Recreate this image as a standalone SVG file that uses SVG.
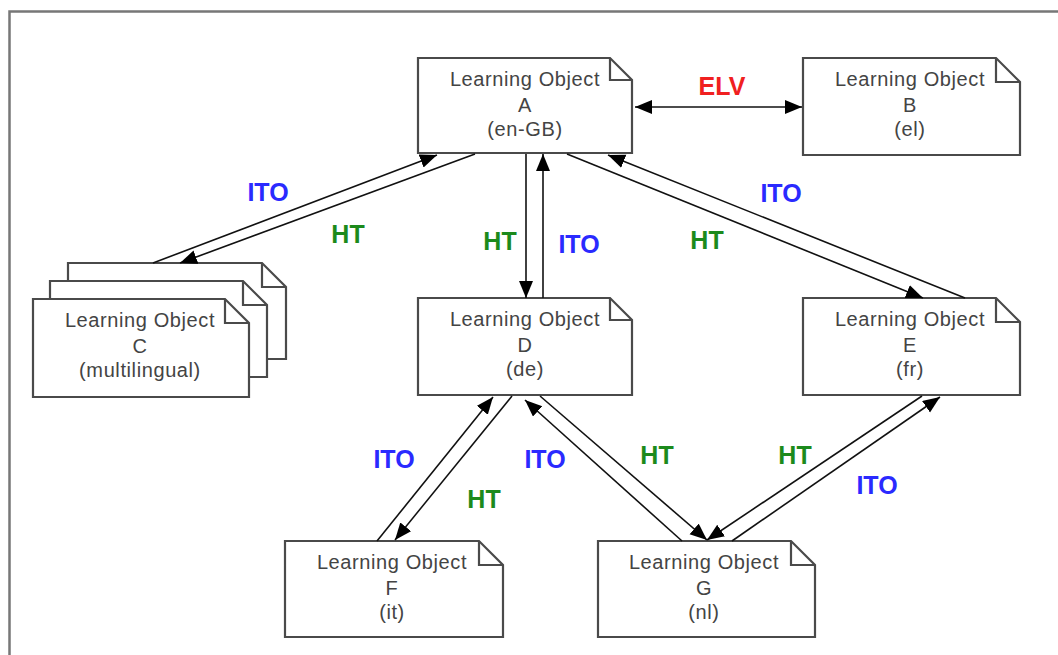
<svg xmlns="http://www.w3.org/2000/svg" width="1058" height="655" viewBox="0 0 1058 655">
<style>
.box{fill:#fff;stroke:#4a4a4a;stroke-width:2.2;stroke-linejoin:miter}
.fold{fill:none;stroke:#4a4a4a;stroke-width:2.2}
.nt{font-family:"Liberation Sans",Arial,sans-serif;font-size:20px;fill:#444;text-anchor:middle;letter-spacing:0.6px}
.ln{stroke:#111;stroke-width:1.6;fill:none}
.lbl{font-family:"Liberation Sans",Arial,sans-serif;font-size:25px;font-weight:bold;text-anchor:middle}
.ito{fill:#2a2aff}
.ht{fill:#1c8a1c}
.elv{fill:#f02020}
</style>
<defs>
<marker id="ah" markerUnits="userSpaceOnUse" markerWidth="18" markerHeight="15" refX="17" refY="7" orient="auto-start-reverse" viewBox="0 0 18 15">
<path d="M0,0 L17,7 L0,14 z" fill="#000"/>
</marker>
</defs>
<rect x="0" y="0" width="1058" height="655" fill="#fff"/>
<path d="M9.5,655 V11.5 H1058" fill="none" stroke="#777" stroke-width="2.5"/>

<g id="nodeA">
<path class="box" d="M418,58 H610 L632,80 V153 H418 Z"/><path class="fold" d="M610,58 V80 H632"/>
<text class="nt" x="525" y="86">Learning Object</text><text class="nt" x="525" y="112">A</text><text class="nt" x="525" y="136">(en-GB)</text>
</g>
<g id="nodeB">
<path class="box" d="M803,58 H996 L1020,82 V155 H803 Z"/><path class="fold" d="M996,58 V82 H1020"/>
<text class="nt" x="910" y="86">Learning Object</text><text class="nt" x="910" y="112">B</text><text class="nt" x="910" y="136">(el)</text>
</g>
<g id="nodeC">
<path class="box" d="M68,263 H262 L286,287 V359 H68 Z"/><path class="fold" d="M262,263 V287 H286"/>
<path class="box" d="M50,281 H243 L267,305 V377 H50 Z"/><path class="fold" d="M243,281 V305 H267"/>
<path class="box" d="M33,299 H225 L249,323 V397 H33 Z"/><path class="fold" d="M225,299 V323 H249"/>
<text class="nt" x="140" y="327">Learning Object</text><text class="nt" x="140" y="353">C</text><text class="nt" x="140" y="377">(multilingual)</text>
</g>
<g id="nodeD">
<path class="box" d="M418,298 H610 L632,320 V395 H418 Z"/><path class="fold" d="M610,298 V320 H632"/>
<text class="nt" x="525" y="326">Learning Object</text><text class="nt" x="525" y="352">D</text><text class="nt" x="525" y="376">(de)</text>
</g>
<g id="nodeE">
<path class="box" d="M803,298 H996 L1020,322 V395 H803 Z"/><path class="fold" d="M996,298 V322 H1020"/>
<text class="nt" x="910" y="326">Learning Object</text><text class="nt" x="910" y="352">E</text><text class="nt" x="910" y="376">(fr)</text>
</g>
<g id="nodeF">
<path class="box" d="M285,541 H479 L503,565 V637 H285 Z"/><path class="fold" d="M479,541 V565 H503"/>
<text class="nt" x="392" y="569">Learning Object</text><text class="nt" x="392" y="595">F</text><text class="nt" x="392" y="619">(it)</text>
</g>
<g id="nodeG">
<path class="box" d="M598,541 H791 L815,565 V637 H598 Z"/><path class="fold" d="M791,541 V565 H815"/>
<text class="nt" x="704" y="569">Learning Object</text><text class="nt" x="704" y="595">G</text><text class="nt" x="704" y="619">(nl)</text>
</g>

<g id="connectors">
<line class="ln" x1="635" y1="107" x2="802" y2="107" marker-start="url(#ah)" marker-end="url(#ah)"/>
<line class="ln" x1="153" y1="263" x2="437" y2="155" marker-end="url(#ah)"/>
<line class="ln" x1="475" y1="154" x2="180" y2="263" marker-end="url(#ah)"/>
<line class="ln" x1="526" y1="154" x2="526" y2="298" marker-end="url(#ah)"/>
<line class="ln" x1="543" y1="298" x2="543" y2="154" marker-end="url(#ah)"/>
<line class="ln" x1="567" y1="154" x2="923" y2="298" marker-end="url(#ah)"/>
<line class="ln" x1="965" y1="298" x2="608" y2="155" marker-end="url(#ah)"/>
<line class="ln" x1="377" y1="541" x2="493" y2="397" marker-end="url(#ah)"/>
<line class="ln" x1="512" y1="396" x2="395" y2="540" marker-end="url(#ah)"/>
<line class="ln" x1="682" y1="541" x2="525" y2="400" marker-end="url(#ah)"/>
<line class="ln" x1="540" y1="396" x2="707" y2="540" marker-end="url(#ah)"/>
<line class="ln" x1="922" y1="396" x2="707" y2="540" marker-end="url(#ah)"/>
<line class="ln" x1="732" y1="541" x2="940" y2="397" marker-end="url(#ah)"/>
</g>

<g id="labels">
<text class="lbl elv" x="722" y="95">ELV</text>
<text class="lbl ito" x="268" y="201">ITO</text>
<text class="lbl ht" x="348" y="243">HT</text>
<text class="lbl ht" x="500" y="250">HT</text>
<text class="lbl ito" x="579" y="253">ITO</text>
<text class="lbl ito" x="781" y="202">ITO</text>
<text class="lbl ht" x="707" y="249">HT</text>
<text class="lbl ito" x="394" y="468">ITO</text>
<text class="lbl ht" x="484" y="508">HT</text>
<text class="lbl ito" x="545" y="468">ITO</text>
<text class="lbl ht" x="657" y="464">HT</text>
<text class="lbl ht" x="795" y="464">HT</text>
<text class="lbl ito" x="877" y="494">ITO</text>
</g>
</svg>
